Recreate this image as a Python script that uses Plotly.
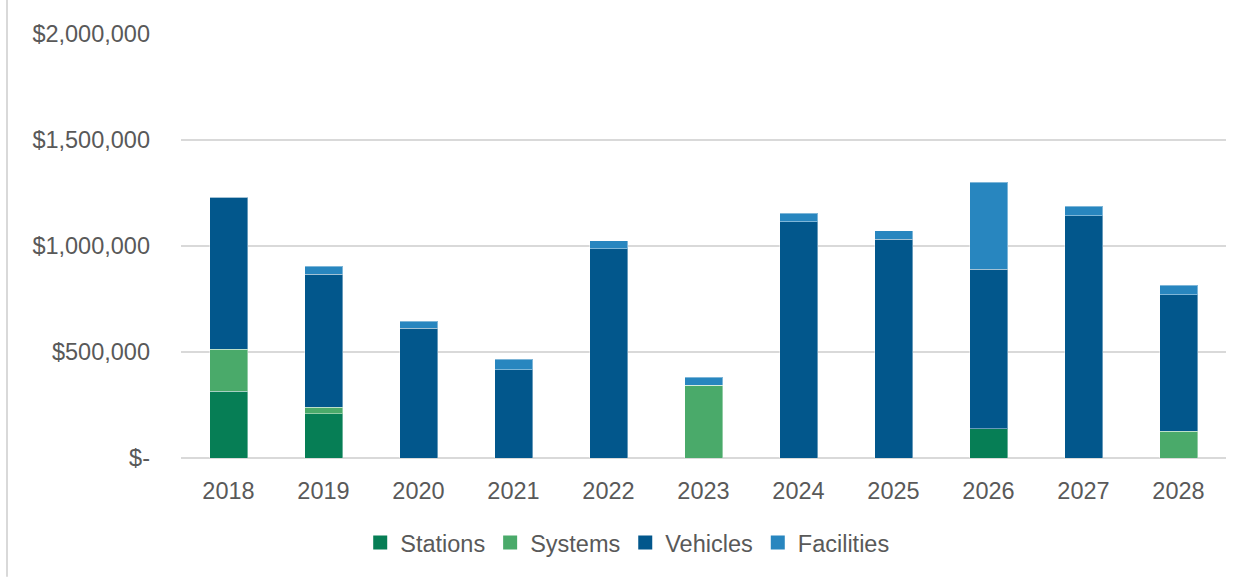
import plotly.graph_objects as go

years = ["2018", "2019", "2020", "2021", "2022", "2023", "2024", "2025", "2026", "2027", "2028"]
stations = [316000, 208000, 0, 0, 0, 0, 0, 0, 139000, 0, 0]
systems = [196000, 31000, 0, 0, 0, 343000, 0, 0, 0, 0, 126000]
vehicles = [717000, 628000, 611000, 416000, 987000, 0, 1114000, 1031000, 752000, 1143000, 645000]
facilities = [0, 38000, 34000, 51000, 38000, 39000, 40000, 41000, 409000, 45000, 44000]

tick_vals = [0, 500000, 1000000, 1500000, 2000000]
tick_text = ["$-", "$500,000", "$1,000,000", "$1,500,000", "$2,000,000"]

series = [
    ("Stations", stations, "#067E55"),
    ("Systems", systems, "#4AAA6A"),
    ("Vehicles", vehicles, "#02578C"),
    ("Facilities", facilities, "#2886BF"),
]

fig = go.Figure()
for name, vals, color in series:
    fig.add_trace(go.Bar(
        x=years, y=vals, name=name, showlegend=False,
        marker=dict(color=color, line=dict(color="rgba(255,255,255,0.4)", width=1)),
        width=0.4,
    ))
for name, vals, color in series:
    fig.add_trace(go.Scatter(
        x=[None], y=[None], name=name, mode="markers",
        marker=dict(symbol="square", size=14, color=color),
    ))

font_family = "Liberation Sans, Arial, sans-serif"
fs = 23.5
fig.update_layout(
    barmode="stack",
    width=1252, height=577,
    margin=dict(l=181, r=26, t=34, b=119),
    paper_bgcolor="white", plot_bgcolor="white",
    font=dict(family=font_family, size=fs, color="#595959"),
    xaxis=dict(showgrid=False, showline=False, ticks="", ticklabelstandoff=16,
               tickfont=dict(size=fs, color="#595959")),
    yaxis=dict(range=[0, 2000000], tickvals=tick_vals, ticktext=tick_text,
               showgrid=True, gridcolor="#D9D9D9", gridwidth=2,
               zeroline=True, zerolinecolor="#D9D9D9", zerolinewidth=2,
               ticks="", ticklabelstandoff=30, tickfont=dict(size=fs, color="#595959")),
    legend=dict(orientation="h", x=0.427, xanchor="center", y=-0.2, yanchor="middle",
                font=dict(size=fs, color="#595959"), traceorder="normal",
                itemwidth=30, tracegroupgap=0),
    bargap=0.6,
    shapes=[dict(type="line", xref="paper", yref="paper", x0=-0.1665, x1=-0.1665, y0=-0.28, y1=1.09,
                 line=dict(color="#D9D9D9", width=2))],
)

fig.write_html("out.html")
